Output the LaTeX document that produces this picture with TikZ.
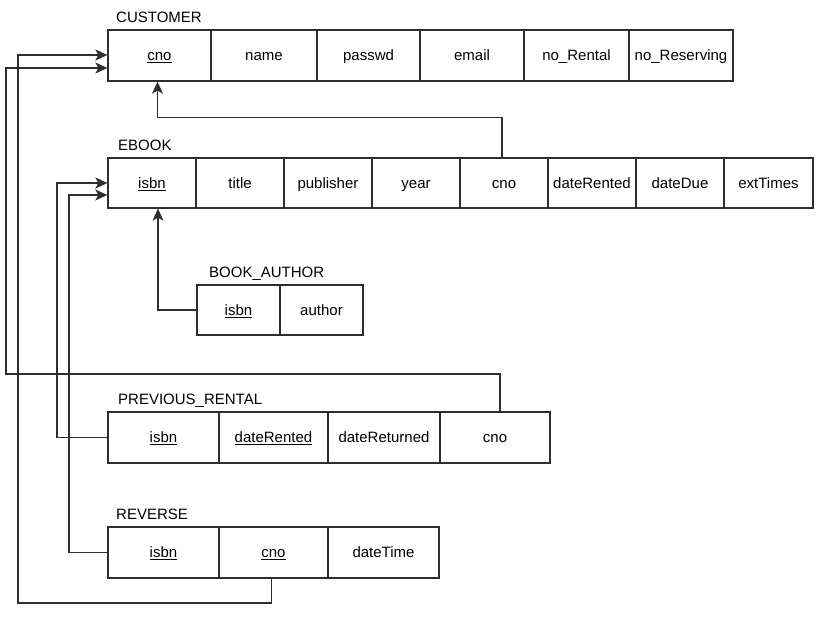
\documentclass[tikz,border=0pt]{standalone}
\usepackage{fontspec}
\setmainfont{Liberation Sans}
\usetikzlibrary{arrows.meta,calc}
\definecolor{ln}{HTML}{2E2E2E}
\begin{document}
\begin{tikzpicture}[x=1pt,y=-1pt,
  cell/.style={draw=ln,line width=1.3pt,inner sep=0pt,font=\fontsize{15}{17}\selectfont,text=black,text height=13.5pt,text depth=3pt},
  ttl/.style={anchor=base west,inner sep=0pt,font=\fontsize{15}{17}\selectfont,text=black},
  arr/.style={draw=ln,line width=1.3pt,-{Stealth[length=12pt,width=11pt,inset=3pt]}}]
\useasboundingbox (0,0) rectangle (823,618);
% CUSTOMER
\node[ttl] (tc) at (116,23) {CUSTOMER};
\begin{scope}[every node/.style={cell,minimum height=51pt}]
\node[minimum width=103pt] (c1) at (159.5,55.5) {\underline{cno}};
\node[minimum width=106pt] (c2) at (264,55.5) {name};
\node[minimum width=103pt] (c3) at (368.5,55.5) {passwd};
\node[minimum width=104pt] (c4) at (472,55.5) {email};
\node[minimum width=105pt] (c5) at (576.5,55.5) {no\_Rental};
\node[minimum width=104pt] (c6) at (681,55.5) {no\_Reserving};
\end{scope}
% EBOOK
\node[ttl] (te) at (118,150) {EBOOK};
\begin{scope}[every node/.style={cell,minimum height=50pt,minimum width=88pt}]
\node (e1) at (152,183) {\underline{isbn}};
\node (e2) at (240,183) {title};
\node (e3) at (328,183) {publisher};
\node (e4) at (416,183) {year};
\node (e5) at (504,183) {cno};
\node (e6) at (592,183) {dateRented};
\node (e7) at (680,183) {dateDue};
\node[minimum width=89pt] (e8) at (768.5,183) {extTimes};
\end{scope}
% BOOK_AUTHOR
\node[ttl] (tb) at (209,277) {BOOK\_AUTHOR};
\begin{scope}[every node/.style={cell,minimum height=50pt,minimum width=83pt}]
\node (b1) at (238.5,310) {\underline{isbn}};
\node (b2) at (321.5,310) {author};
\end{scope}
% PREVIOUS_RENTAL
\node[ttl] (tp) at (118,404) {PREVIOUS\_RENTAL};
\begin{scope}[every node/.style={cell,minimum height=51pt}]
\node[minimum width=111pt] (p1) at (163.5,437.5) {\underline{isbn}};
\node[minimum width=109pt] (p2) at (273.5,437.5) {\underline{dateRented}};
\node[minimum width=112pt] (p3) at (384,437.5) {dateReturned};
\node[minimum width=110pt] (p4) at (495,437.5) {cno};
\end{scope}
% REVERSE
\node[ttl] (tr) at (116,519) {REVERSE};
\begin{scope}[every node/.style={cell,minimum height=51pt}]
\node[minimum width=111pt] (r1) at (163.5,552.5) {\underline{isbn}};
\node[minimum width=109pt] (r2) at (273.5,552.5) {\underline{cno}};
\node[minimum width=111pt] (r3) at (383.5,552.5) {dateTime};
\end{scope}
% rails
\coordinate (railP) at (6,374);
\coordinate (railR) at (18,603);
\coordinate (railPI) at (57,437.5);
\coordinate (railRI) at (69,552.5);
% connectors
\draw[arr] ($(e5.north)+(-2,0)$) -- ++(0,-40) -| ($(c1.south)+(-2,0)$);
\draw[arr] (b1.west) -| ($(e1.south)+(6,0)$);
\draw[arr] ($(p4.north)+(5,0)$) |- (railP) -- ($(railP|-c1.west)+(0,12.5)$) -- ($(c1.west)+(0,12.5)$);
\draw[arr] ($(r2.south)+(-2,0)$) |- (railR) |- ($(c1.west)+(0,-0.5)$);
\draw[arr] (p1.west) -- (railPI) |- (e1.west);
\draw[arr] (r1.west) -- (railRI) |- ($(e1.west)+(0,12)$);
\end{tikzpicture}
\end{document}
